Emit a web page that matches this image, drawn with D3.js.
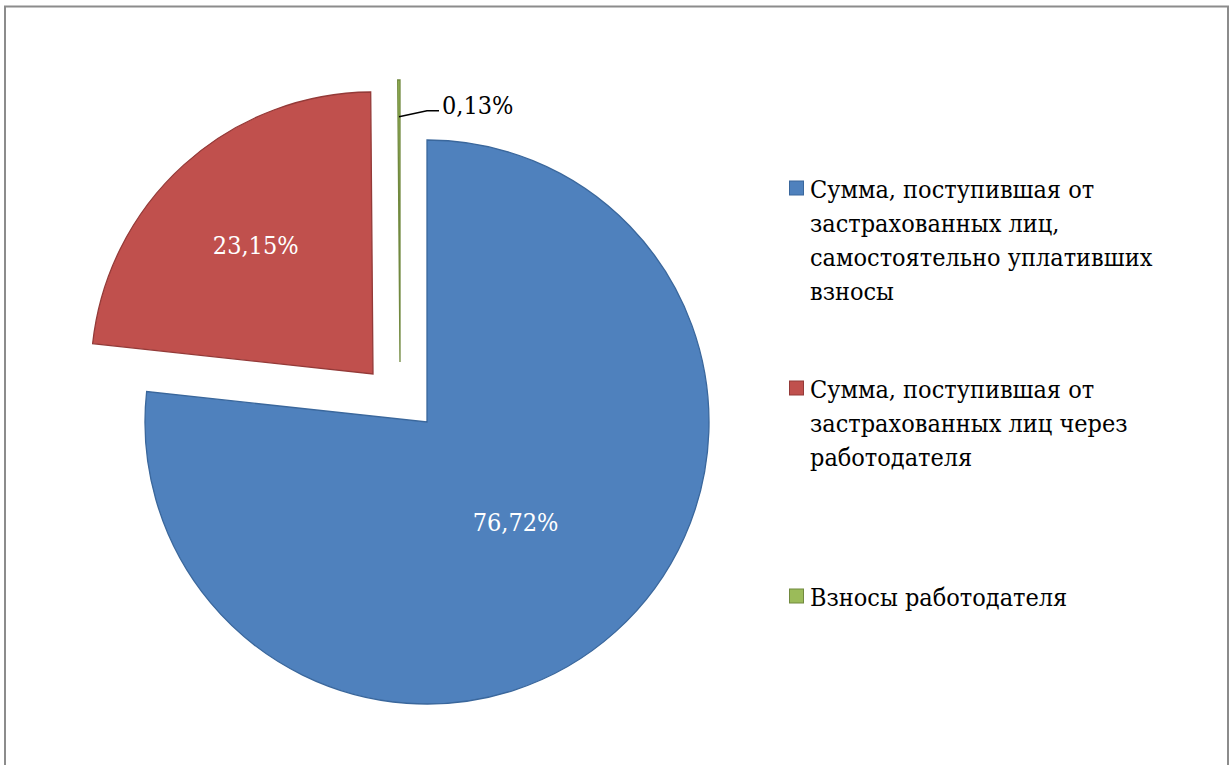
<!DOCTYPE html>
<html>
<head>
<meta charset="utf-8">
<script src="https://cdn.jsdelivr.net/npm/d3@7"></script>
<style>
  body { margin: 0; background: #fff; }
  svg { display: block; }
  svg text { font-stretch: condensed; }
</style>
</head>
<body>
<div id="chart"></div>
<script>
const categories = [
  'Сумма, поступившая от застрахованных лиц, самостоятельно уплативших взносы',
  'Сумма, поступившая от застрахованных лиц через работодателя',
  'Взносы работодателя'
];
const shares = [76.72, 23.15, 0.13];

const width = 1231;
const height = 765;
const cx = 427;
const cy = 422;
const radius = 282;
const fills = ['#4f81bd', '#c0504d', '#9bbb59'];
const strokes = ['#3a679c', '#943a38', '#71893f'];
const labelColours = ['#fff', '#fff', '#000'];
// explosion offsets for each slice (px)
const explode = [[0, 0], [-54, -48], [-27, -60]];
const legendX = 789;
const legendBaselines = [198, 398, 606];
const lineHeight = 34;
const wrapWidth = 380;
const fontSize = '25px';
const fontFamily = '"DejaVu Serif Condensed", "DejaVu Serif", serif';

const locale = d3.formatLocale({ decimal: ',', thousands: ' ', grouping: [3], currency: ['', ''] });
const fmt = locale.format('.2f');

const svg = d3
  .select('#chart')
  .append('svg')
  .attr('width', width)
  .attr('height', height)
  .attr('font-family', fontFamily);

svg
  .append('rect')
  .attr('x', 5)
  .attr('y', 6.5)
  .attr('width', 1223)
  .attr('height', 820)
  .attr('fill', '#fff')
  .attr('stroke', '#8c8c8c')
  .attr('stroke-width', 2);

const pie = d3
  .pie()
  .sort(null)
  .value(d => d);

const arcs = pie(shares);
const arc = d3.arc().innerRadius(0).outerRadius(radius);

const slice = svg
  .append('g')
  .selectAll('g')
  .data(arcs)
  .enter()
  .append('g')
  .attr('transform', (d, i) => 'translate(' + (cx + explode[i][0]) + ',' + (cy + explode[i][1]) + ')');

slice
  .append('path')
  .attr('d', arc)
  .attr('fill', (d, i) => fills[i])
  .attr('stroke', (d, i) => strokes[i])
  .attr('stroke-width', 1.3)
  .attr('stroke-linejoin', 'miter');

// labels for the large slices, inside
const labelFrac = [0.47, 0.62];
slice
  .filter((d, i) => i < 2)
  .append('text')
  .attr('x', (d, i) => Math.sin((d.startAngle + d.endAngle) / 2) * radius * labelFrac[i])
  .attr('y', (d, i) => -Math.cos((d.startAngle + d.endAngle) / 2) * radius * labelFrac[i] + 10)
  .attr('text-anchor', 'middle')
  .attr('fill', (d, i) => labelColours[i])
  .style('font-size', fontSize)
  .text(d => fmt(d.data) + '%');

// small slice: outside label with leader line
const small = arcs[2];
const mid = (small.startAngle + small.endAngle) / 2;
const gx = cx + explode[2][0];
const gy = cy + explode[2][1];
const lx0 = gx + Math.sin(mid) * radius * 0.87;
const ly0 = gy - Math.cos(mid) * radius * 0.87;
svg
  .append('polyline')
  .attr('points', [[lx0, ly0], [lx0 + 28, ly0 - 6], [lx0 + 40, ly0 - 6]].map(p => p.join(',')).join(' '))
  .attr('fill', 'none')
  .attr('stroke', '#000')
  .attr('stroke-width', 1.5);
svg
  .append('text')
  .attr('x', lx0 + 43)
  .attr('y', ly0 - 3)
  .attr('fill', '#000')
  .style('font-size', fontSize)
  .text(fmt(small.data) + '%');

// legend
const legend = svg
  .append('g')
  .selectAll('g')
  .data(categories)
  .enter()
  .append('g')
  .attr('transform', (d, i) => 'translate(' + legendX + ',' + legendBaselines[i] + ')');

legend
  .append('rect')
  .attr('x', 0.5)
  .attr('y', -17)
  .attr('width', 14)
  .attr('height', 14)
  .attr('fill', (d, i) => fills[i])
  .attr('stroke', (d, i) => strokes[i])
  .attr('stroke-width', 1);

legend.each(function(d) {
  const text = d3
    .select(this)
    .append('text')
    .attr('x', 21)
    .attr('y', 0)
    .attr('fill', '#000')
    .style('font-size', fontSize);
  const words = d.split(' ');
  let line = [];
  let lineNo = 0;
  let tspan = text.append('tspan').attr('x', 21).attr('y', 0);
  words.forEach(w => {
    line.push(w);
    tspan.text(line.join(' '));
    if (tspan.node().getComputedTextLength() > wrapWidth && line.length > 1) {
      line.pop();
      tspan.text(line.join(' '));
      line = [w];
      lineNo += 1;
      tspan = text
        .append('tspan')
        .attr('x', 21)
        .attr('y', lineNo * lineHeight)
        .text(w);
    }
  });
});
</script>
</body>
</html>
